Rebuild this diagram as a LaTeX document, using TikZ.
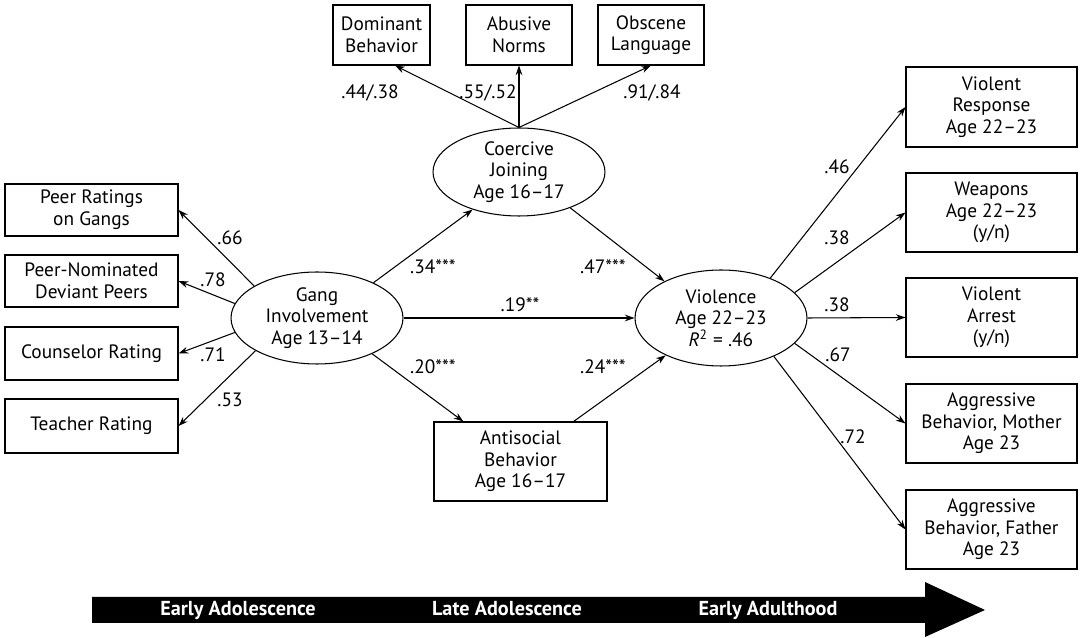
\documentclass[tikz,border=0pt]{standalone}
\usepackage{fontspec}
\setmainfont{PT Sans}
\usetikzlibrary{shapes.geometric,arrows.meta}

\begin{document}
\begin{tikzpicture}[x=0.02cm,y=-0.02cm,line width=0.6pt,
	box/.style={draw,rectangle,align=center,inner sep=0pt,font=\fontsize{11}{12.3}\selectfont},
	latent/.style={draw,ellipse,align=center,inner sep=0pt,minimum width=3.44cm,font=\fontsize{11}{12.3}\selectfont},
	path/.style={-{Stealth[length=5.5pt,width=3.8pt]}},
	coef/.style={inner sep=1pt,font=\fontsize{11}{12.3}\selectfont},
	stage/.style={text=white,text height=1.6ex,text depth=.3ex,font=\bfseries\fontsize{11.5}{12}\selectfont}]

	\useasboundingbox (0,0) rectangle (1080,638);

	% \draw latent variables
	\node[latent,minimum height=1.84cm] (gang) at (317,318) {Gang\\Involvement\\Age 13–14};
	\node[latent,minimum height=1.76cm] (coer) at (519,172) {Coercive\\Joining\\Age 16–17};
	\node[latent,minimum height=1.92cm] (viol) at (721,318) {Violence\\Age 22–23\\\textit{R}\textsuperscript{2} = .46};

	% \draw indicators of gang involvement
	\node[box,minimum width=3.46cm,minimum height=1.04cm] (peerrat) at (91.5,210) {Peer Ratings\\on Gangs};
	\node[box,minimum width=3.46cm,minimum height=1.04cm] (peernom) at (91.5,281) {Peer-Nominated\\Deviant Peers};
	\node[box,minimum width=3.46cm,minimum height=1.06cm] (couns) at (91.5,353.5) {Counselor Rating};
	\node[box,minimum width=3.46cm,minimum height=1.08cm] (teach) at (91.5,426) {Teacher Rating};

	% \draw indicators of coercive joining
	\node[box,minimum width=1.94cm,minimum height=1.2cm] (domin) at (381.5,35) {Dominant\\Behavior};
	\node[box,minimum width=2.12cm,minimum height=1.2cm] (abuse) at (519,35) {Abusive\\Norms};
	\node[box,minimum width=2.12cm,minimum height=1.2cm] (obsc) at (651,35) {Obscene\\Language};

	\node[box,minimum width=3.46cm,minimum height=1.58cm] (anti) at (520.5,461.5) {Antisocial\\Behavior\\Age 16–17};

	% \draw outcomes of violence
	\node[box,minimum width=3.42cm,minimum height=1.6cm] (resp) at (991.5,107) {Violent\\Response\\Age 22–23};
	\node[box,minimum width=3.42cm,minimum height=1.58cm] (weap) at (991.5,212.5) {Weapons\\Age 22–23\\(y/n)};
	\node[box,minimum width=3.42cm,minimum height=1.58cm] (arrest) at (991.5,317.5) {Violent\\Arrest\\(y/n)};
	\node[box,minimum width=3.42cm,minimum height=1.58cm] (mother) at (991.5,423.5) {Aggressive\\Behavior, Mother\\Age 23};
	\node[box,minimum width=3.42cm,minimum height=1.58cm] (father) at (991.5,529.5) {Aggressive\\Behavior, Father\\Age 23};

	% \draw paths
	\draw[path] (gang.153) -- (peerrat.east);
	\draw[path] (gang.170) -- (peernom.east);
	\draw[path] (gang.190) -- (couns.east);
	\draw[path] (gang.208) -- (teach.east);

	\draw[path] (coer.north) -- (domin.-66);
	\draw[path] (coer.north) -- (abuse.south);
	\draw[path] (coer.north) -- (obsc.south);

	\draw[path] (gang.32) -- (coer.219);
	\draw[path] (coer.-35) -- (viol.147);
	\draw[path] (gang.east) -- (viol.west);
	\draw[path] (gang.-33) -- (anti.145);
	\draw[path] (anti.37.6) -- (viol.214);

	\draw[path] (viol.39) -- (resp.west);
	\draw[path] (viol.19) -- (weap.west);
	\draw[path] (viol.east) -- (arrest.west);
	\draw[path] (viol.-19) -- (mother.west);
	\draw[path] (viol.-36) -- (father.west);

	% \draw path coefficients
	\node[coef] (c66) at (230,238) {.66};
	\node[coef] (c78) at (213,280) {.78};
	\node[coef] (c71) at (213,355) {.71};
	\node[coef] (c53) at (230,400) {.53};
	\node[coef] (cdom) at (370,93) {.44/.38};
	\node[coef] (cabu) at (488,93) {.55/.52};
	\node[coef] (cobs) at (652,93) {.91/.84};
	\node[coef] (c34) at (433,267) {.34***};
	\node[coef] (c47) at (603,267) {.47***};
	\node[coef] (c19) at (520,305) {.19**};
	\node[coef] (c20) at (433,367) {.20***};
	\node[coef] (c24) at (603,367) {.24***};
	\node[coef] (c46) at (837,167) {.46};
	\node[coef] (c38a) at (837,238) {.38};
	\node[coef] (c38b) at (837,305) {.38};
	\node[coef] (c67) at (838,355) {.67};
	\node[coef] (c72) at (853,437) {.72};

	% \draw time arrow
	\fill[black] (92,597) -- (925,597) -- (925,582) -- (985,610) -- (925,637) -- (925,623) -- (92,623) -- cycle;
	\node[stage] (early) at (238,610) {Early Adolescence};
	\node[stage] (late) at (507,610) {Late Adolescence};
	\node[stage] (adult) at (768,610) {Early Adulthood};
\end{tikzpicture}
\end{document}
